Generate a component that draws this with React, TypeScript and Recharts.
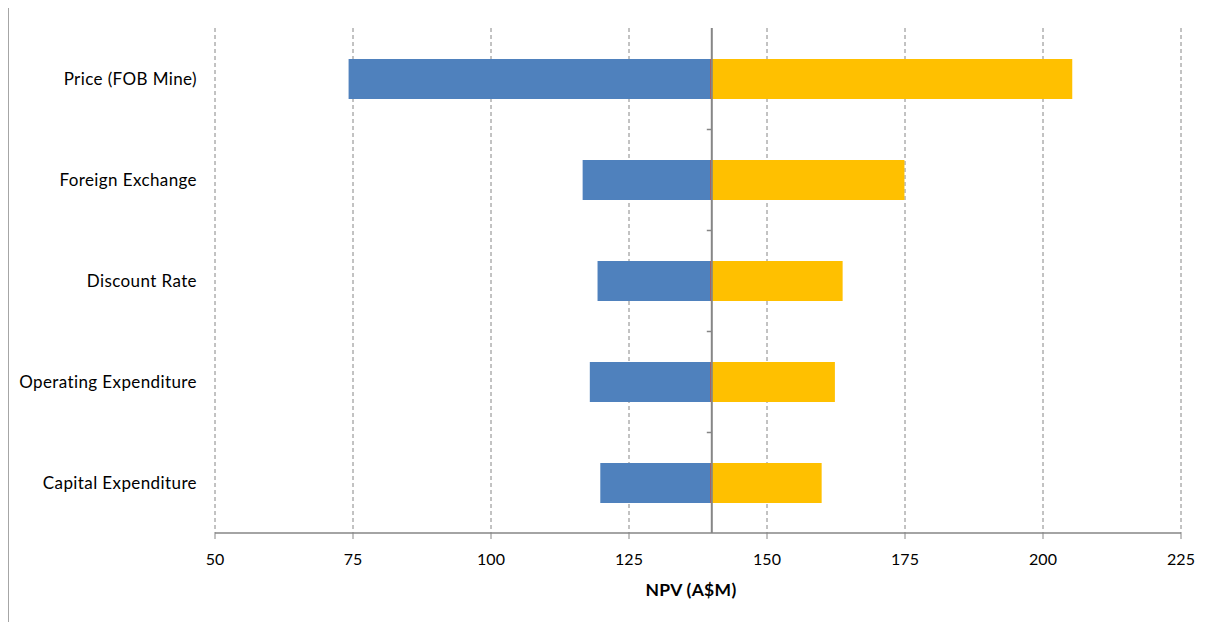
import React from "react";
import { BarChart, Bar, XAxis, YAxis, CartesianGrid, ReferenceLine } from "recharts";

// Sensitivity drivers, top to bottom
const drivers = [
  "Price (FOB Mine)",
  "Foreign Exchange",
  "Discount Rate",
  "Operating Expenditure",
  "Capital Expenditure",
];
const baseNpv = 140;
const lowNpv = [74.2, 116.6, 119.3, 117.9, 119.8];
const highNpv = [205.3, 174.9, 163.7, 162.3, 159.9];
const xTicks = [50, 75, 100, 125, 150, 175, 200, 225];

const data = drivers.map((name, i) => ({
  name,
  low: [lowNpv[i], baseNpv],
  high: [baseNpv, highNpv[i]],
}));

const GREY = "#868686";
const FONT = "Lato, 'Open Sans', sans-serif";

const CHART_W = 1204;
const CHART_H = 614;
const MARGIN = { top: 20, right: 32, bottom: 19, left: 0 };
const X_AXIS_H = 70;
// height of one category band, used for the small ticks on the centre axis
const BAND = (CHART_H - MARGIN.top - MARGIN.bottom - X_AXIS_H) / drivers.length;

// blue bar with the thin red edge at the base value
const LowBar = (props: any) => {
  const { x, y, width, height, fill } = props;
  return (
    <g>
      <rect x={x} y={y} width={width} height={height} fill={fill} />
      <line
        x1={x + width - 0.8}
        x2={x + width - 0.8}
        y1={y}
        y2={y + height}
        stroke="#C0504D"
        strokeWidth={1.5}
      />
    </g>
  );
};

// orange bar, also draws the category tick on the centre axis above it
const HighBar = (props: any) => {
  const { x, y, width, height, fill, index } = props;
  const tickY = y + height / 2 - BAND / 2;
  return (
    <g>
      <rect x={x} y={y} width={width} height={height} fill={fill} />
      {index > 0 && (
        <line x1={x - 5} x2={x} y1={tickY} y2={tickY} stroke={GREY} strokeWidth={1.5} />
      )}
    </g>
  );
};

const App: React.FC = () => {
  return (
    <div
      style={{
        width: CHART_W,
        height: CHART_H,
        marginTop: -1,
        borderTop: "1px solid #a6a6a6",
        borderLeft: "1px solid #a6a6a6",
        background: "#fff",
        fontFamily: FONT,
      }}
    >
      <BarChart
        width={CHART_W}
        height={CHART_H}
        data={data}
        layout="vertical"
        margin={MARGIN}
        barSize={40}
        barGap={-40}
      >
        <CartesianGrid horizontal={false} stroke={GREY} strokeDasharray="4 3" />
        <XAxis
          type="number"
          domain={[50, 225]}
          ticks={xTicks}
          interval={0}
          height={X_AXIS_H}
          axisLine={{ stroke: GREY, strokeWidth: 1.5 }}
          tickLine={{ stroke: GREY }}
          tickSize={6}
          tickMargin={15}
          tick={{ fill: "#000", fontSize: 16, fontFamily: FONT }}
          label={{
            value: "NPV (A$M)",
            position: "insideBottom",
            offset: 7,
            dx: -7,
            fill: "#000",
            fontSize: 17.5,
            fontWeight: "bold",
            fontFamily: FONT,
            letterSpacing: 0.3,
          }}
        />
        <YAxis
          type="category"
          dataKey="name"
          width={206}
          axisLine={false}
          tickLine={false}
          tickMargin={12}
          tick={{ fill: "#000", fontSize: 17, fontFamily: FONT, letterSpacing: 0.4 }}
        />
        <Bar dataKey="low" fill="#4F81BD" shape={LowBar} isAnimationActive={false} />
        <Bar dataKey="high" fill="#FFC000" shape={HighBar} isAnimationActive={false} />
        <ReferenceLine x={baseNpv} stroke={GREY} strokeWidth={2} />
      </BarChart>
    </div>
  );
};

export default App;
